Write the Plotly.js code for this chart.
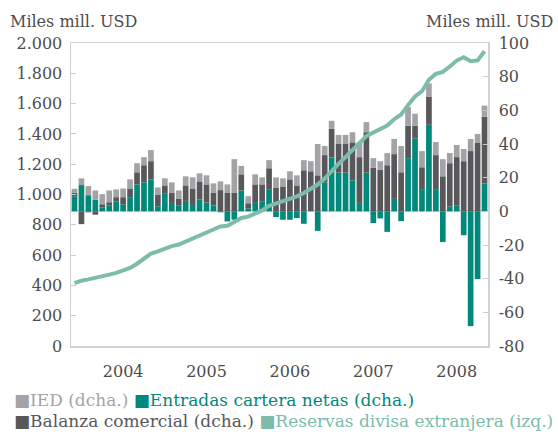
<!DOCTYPE html>
<html><head><meta charset="utf-8">
<script src="https://cdn.plot.ly/plotly-3.0.1.min.js"></script>
<style>html,body{margin:0;padding:0;background:#fff}#chart{width:558px;height:434px}</style>
</head><body><div id="chart"></div>
<script>
// Monthly categories Jan 2004 - Dec 2008
const months = [
 '2004-01','2004-02','2004-03','2004-04','2004-05','2004-06','2004-07','2004-08','2004-09','2004-10','2004-11','2004-12',
 '2005-01','2005-02','2005-03','2005-04','2005-05','2005-06','2005-07','2005-08','2005-09','2005-10','2005-11','2005-12',
 '2006-01','2006-02','2006-03','2006-04','2006-05','2006-06','2006-07','2006-08','2006-09','2006-10','2006-11','2006-12',
 '2007-01','2007-02','2007-03','2007-04','2007-05','2007-06','2007-07','2007-08','2007-09','2007-10','2007-11','2007-12',
 '2008-01','2008-02','2008-03','2008-04','2008-05','2008-06','2008-07','2008-08','2008-09','2008-10','2008-11','2008-12'];

// Right axis series (miles mill. USD)
const entradas = [
 9.0,15.6,9.6,7.0,2.4,3.6,5.8,4.0,8.4,16.0,17.2,19.0,
 3.0,10.8,5.0,3.6,6.2,3.8,7.0,5.2,3.4,-0.6,-6.0,-5.0,
 12.4,1.6,5.0,6.0,13.2,-3.4,-5.0,-5.0,-4.0,-7.4,0.0,-11.6,
 17.0,32.0,23.0,23.0,18.4,5.0,23.0,-7.0,-4.2,-12.2,7.4,-5.8,
 31.6,43.2,13.2,51.4,13.2,-18.2,2.8,3.6,-14.2,-68.2,-40.2,16.6];
const balanza = [
 2.0,-7.6,-0.6,-2.0,1.8,1.8,2.6,4.4,5.2,7.2,10.2,10.8,
 7.0,4.6,6.2,4.0,9.2,9.8,10.8,10.8,7.8,12.6,11.2,11.2,
 9.6,3.2,11.0,10.0,12.4,14.2,14.8,19.0,15.4,24.4,23.8,21.4,
 16.4,17.0,17.0,17.0,22.6,27.2,24.0,25.8,24.8,27.4,26.6,23.2,
 19.2,7.6,13.0,16.8,20.2,20.8,25.8,28.6,29.8,35.8,40.6,39.6];
const ied = [
 2.4,4.0,5.4,5.4,6.0,7.0,4.6,5.2,5.4,5.4,4.8,6.6,
 4.2,4.2,6.0,4.8,5.4,6.6,4.8,5.4,5.4,5.2,4.8,19.8,
 5.0,4.2,6.0,4.2,4.8,6.0,4.8,4.8,6.0,6.0,6.0,18.6,
 5.4,4.8,5.4,5.4,6.0,8.8,6.0,5.8,5.0,7.2,9.0,15.6,
 11.2,7.2,9.6,7.8,7.8,10.2,6.0,7.2,7.2,7.2,5.4,6.6];
// Left axis series
const reservas = [
 415,431,440,449,464,471,483,496,515,543,573,610,
 624,643,659,670,691,711,733,753,769,789,794,819,
 845,854,875,895,925,941,954,972,988,1010,1040,1066,
 1105,1158,1202,1247,1292,1333,1385,1409,1434,1455,1497,1528,
 1590,1647,1682,1757,1797,1809,1845,1884,1906,1880,1885,1946];

const yearTickVals = ['2004-08','2005-08','2006-08','2007-08','2008-08'];
const yearTickText = ['2004','2005','2006','2007','2008'];
const leftTickVals = [0,200,400,600,800,1000,1200,1400,1600,1800,2000];
const leftTickText = ['0','200','400','600','800','1.000','1.200','1.400','1.600','1.800','2.000'];
const rightTickVals = [-80,-60,-40,-20,0,20,40,60,80,100];
const rightTickText = ['-80','-60','-40','-20','0','20','40','60','80','100'];

const names = {
  ied: 'IED (dcha.)', ent: 'Entradas cartera netas (dcha.)',
  bal: 'Balanza comercial (dcha.)', res: 'Reservas divisa extranjera (izq.)'
};
const C = { ied:'#a3a3a6', ent:'#00897b', bal:'#58585b', res:'#7dbbab', text:'#4d4d4d', frame:'#d2d2d2' };
const FONT = 'DejaVu Serif';

// plot area in pixels
const PL = 71, PR = 488, PT = 43, PB = 346, W = 558, H = 434;
const px = x => (x - PL) / (PR - PL);
const py = y => (PB - y) / (PB - PT);

const traces = [
  {type:'bar', x: months, y: entradas, name: names.ent, marker:{color:C.ent}, yaxis:'y', showlegend:false},
  {type:'bar', x: months, y: balanza, name: names.bal, marker:{color:C.bal}, yaxis:'y', showlegend:false},
  {type:'bar', x: months, y: ied, name: names.ied, marker:{color:C.ied}, yaxis:'y', showlegend:false},
  {type:'scatter', mode:'lines', x: months, y: reservas, name: names.res, yaxis:'y2',
   line:{color:C.res, width:4, shape:'linear'}, showlegend:false}
];

const sq = '\u25A0';
const layout = {
  width: W, height: H,
  margin: {l: PL, r: W - PR, t: PT, b: H - PB, pad: 0},
  paper_bgcolor: '#ffffff', plot_bgcolor: '#ffffff',
  font: {family: FONT, size: 16, color: C.text},
  barmode: 'relative', bargap: 0.18,
  showlegend: false,
  xaxis: {type:'category', categoryorder:'array', categoryarray: months,
    range:[-0.5, months.length - 0.5],
    tickmode:'array', tickvals: yearTickVals, ticktext: yearTickText,
    ticks:'', ticklabelstandoff: 10, showgrid:false, zeroline:false,
    showline:true, mirror:true, linecolor:C.frame, linewidth:1.5,
    tickfont:{family:FONT, size:16, color:C.text}},
  yaxis: {side:'right', range:[-80,100], tickmode:'array', tickvals: rightTickVals, ticktext: rightTickText,
    ticks:'inside', ticklen:5, tickcolor:'#cccccc', tickwidth:1,
    showgrid:false, zeroline:true, zerolinecolor:'#dcdcdc', zerolinewidth:2,
    showline:true, linecolor:C.frame, linewidth:1.5, ticklabelstandoff:6,
    tickfont:{family:FONT, size:16, color:C.text}},
  yaxis2: {side:'left', overlaying:'y', range:[0,2000], tickmode:'array', tickvals: leftTickVals, ticktext: leftTickText,
    ticks:'inside', ticklen:5, tickcolor:'#cccccc', tickwidth:1,
    showgrid:false, zeroline:false, showline:true, linecolor:C.frame, linewidth:1.5, ticklabelstandoff:4,
    tickfont:{family:FONT, size:16, color:C.text}},
  annotations: [
    {xref:'paper', yref:'paper', x: px(8), y: py(22), xanchor:'left', yanchor:'middle', showarrow:false,
     text:'Miles mill. USD', font:{family:FONT, size:16, color:C.text}},
    {xref:'paper', yref:'paper', x: px(555), y: py(22), xanchor:'right', yanchor:'middle', showarrow:false,
     text:'Miles mill. USD', font:{family:FONT, size:16, color:C.text}},
    {xref:'paper', yref:'paper', x: px(12), y: py(400), xanchor:'left', yanchor:'middle', showarrow:false,
     text:'<span style="color:'+C.ied+'">'+sq+names.ied+'</span> <span style="color:'+C.ent+'">'+sq+names.ent+'</span>',
     font:{family:FONT, size:17, color:C.text}},
    {xref:'paper', yref:'paper', x: px(12), y: py(421), xanchor:'left', yanchor:'middle', showarrow:false,
     text:'<span style="color:'+C.bal+'">'+sq+names.bal+'</span> <span style="color:'+C.res+'">'+sq+names.res+'</span>',
     font:{family:FONT, size:17, color:C.text}}
  ]
};

Plotly.newPlot('chart', traces, layout, {staticPlot:true, displayModeBar:false});
</script></body></html>
